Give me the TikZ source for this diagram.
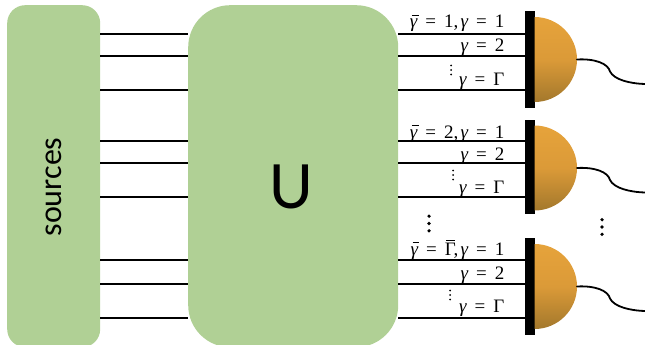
\documentclass[tikz,border=0pt]{standalone}
\usepackage{fontspec}
\setmainfont{Carlito}
\newfontfamily\mathlike{Liberation Serif}
\newcommand{\gam}{{\itshape γ}}
\newcommand{\eqs}{\hspace{0.42em}=\hspace{0.42em}}
\newcommand{\gambar}{\leavevmode\rlap{\hspace{0.1em}\rule[0.62em]{0.36em}{0.05em}}\gam}
\newcommand{\Gambar}{\leavevmode\rlap{\hspace{0.08em}\rule[0.76em]{0.46em}{0.05em}}Γ}
\usetikzlibrary{calc}
\tikzset{
  greenbox/.style={draw=none,fill=boxgreen,rounded corners=#1,inner sep=0pt,anchor=north west},
  wire/.style={draw=black,line width=1.5pt},
  detbar/.style={fill=black,draw=none,minimum width=10pt,inner sep=0pt,anchor=north west},
  gamlabel/.style={font=\mathlike\fontsize{19}{19}\selectfont,inner sep=0pt,anchor=base east},
  dome/.style={top color=domelight,bottom color=domedark,middle color=domemid},
  fibre/.style={draw=black,line width=1.8pt,line cap=round},
  smalldot/.style={circle,fill=black,minimum size=2pt,inner sep=0pt},
  bigdot/.style={circle,fill=black,minimum size=3.6pt,inner sep=0pt}
}
\definecolor{boxgreen}{HTML}{B0D095}
\definecolor{domelight}{HTML}{E6A33B}
\definecolor{domemid}{HTML}{DB9A38}
\definecolor{domedark}{HTML}{A3782C}
\begin{document}
\begin{tikzpicture}[x=1pt,y=-1pt]
\useasboundingbox (0,0) rectangle (645,345);
\clip (0,0) rectangle (645,345);
\node[greenbox=18pt,minimum width=93pt,minimum height=342pt] (src) at (7,5) {};
\node[greenbox=42pt,minimum width=210pt,minimum height=342pt] (uni) at (188,5) {};
\node[rotate=90,font=\fontsize{32}{32}\selectfont,inner sep=0pt] (srclabel) at (54,187) {sources};
\node[font=\fontsize{68}{68}\selectfont,inner sep=0pt] (ulabel) at (291,187) {U};
% detector bars
\node[detbar,minimum height=97pt] (bara) at (524.5,11) {};
\node[detbar,minimum height=94pt] (barb) at (524.5,120) {};
\node[detbar,minimum height=97pt] (barc) at (524.5,238) {};
% wires
\foreach \y in {34,56,90,141,163,197,260,284,318}{
  \draw[wire] (src.east |- 0,\y) -- (uni.west |- 0,\y);
  \draw[wire] (uni.east |- 0,\y) -- (bara.west |- 0,\y);
}
% domes
\foreach \c/\r in {59.5/a,168/b,286.5/c}{
  \shade[dome] (534.5,\c-42.5) arc[start angle=-90,end angle=90,x radius=42.5,y radius=42.5] -- cycle;
  \coordinate (d\r) at (577,\c);
  \coordinate (e\r) at (645,\c+24.5);
  \draw[fibre] (d\r) .. controls ($(d\r)+(18,-1)$) and ($(d\r)+(31,4)$) .. ($(d\r)+(33,12)$)
     .. controls ($(d\r)+(37,20)$) and ($(d\r)+(52,24)$) .. (e\r);
}
% labels
\foreach \yy/\tt in {28/{\gambar\eqs 1,\hspace{0.12em}\gam\eqs 1},
                     52/{\gam\eqs 2},
                     85/{\gam\eqs Γ},
                     138/{\gambar\eqs 2,\hspace{0.12em}\gam\eqs 1},
                     160/{\gam\eqs 2},
                     193/{\gam\eqs Γ},
                     255/{\gambar\eqs \Gambar,\hspace{0.12em}\gam\eqs 1},
                     279/{\gam\eqs 2},
                     312/{\gam\eqs Γ}}{
  \node[gamlabel] at (504.5,\yy) {\tt};
}
% small vertical dots
\foreach \x/\y in {451/70,453/175,450/295}{
  \foreach \o in {-4.5,0,4.5}{
    \node[smalldot] at (\x,\y+\o) {};
  }
}
% big vertical dots
\foreach \x/\y in {429/223.5,602/227}{
  \foreach \o in {-7.3,0,7.3}{
    \node[bigdot] at (\x,\y+\o) {};
  }
}
\end{tikzpicture}
\end{document}
